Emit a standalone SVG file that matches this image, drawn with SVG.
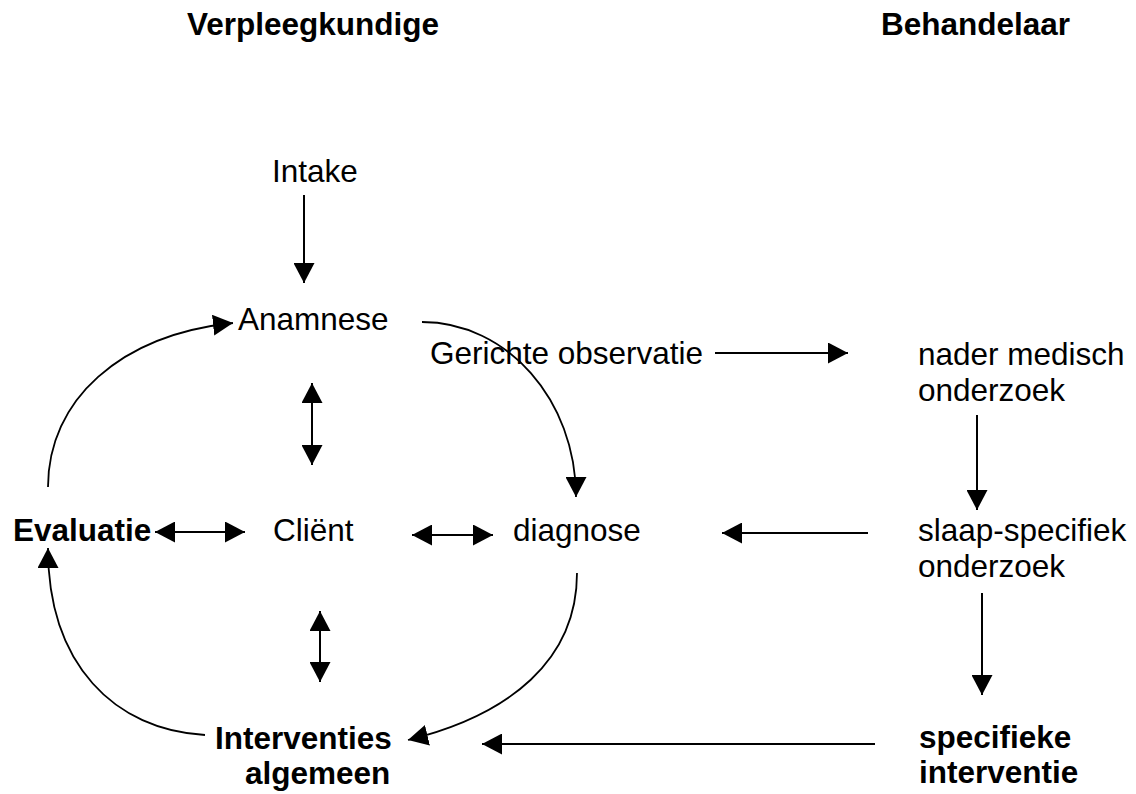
<svg xmlns="http://www.w3.org/2000/svg" width="1136" height="794" viewBox="0 0 1136 794">
<style>
text{font-family:"Liberation Sans",Arial,sans-serif;font-size:31.5px;fill:#000}
.b{font-weight:bold}
.ln{fill:none;stroke:#000;stroke-width:2}
.cv{fill:none;stroke:#000;stroke-width:1.8}
.a{marker-end:url(#ah)}
.d{marker-start:url(#ah);marker-end:url(#ah)}
</style>
<defs>
<marker id="ah" markerUnits="userSpaceOnUse" viewBox="0 0 20 21" markerWidth="20" markerHeight="21" refX="20" refY="10.5" orient="auto-start-reverse">
<path d="M0,0 L20,10.5 L0,21 z" fill="#000"/>
</marker>
</defs>
<rect width="1136" height="794" fill="#fff"/>
<g id="hdr-verpleegkundige"><text class="b" x="187" y="35">Verpleegkundige</text></g>
<g id="hdr-behandelaar"><text class="b" x="881" y="35">Behandelaar</text></g>
<g id="intake"><text x="272" y="182">Intake</text></g>
<g id="anamnese"><text x="238" y="330">Anamnese</text></g>
<g id="observatie"><text x="430" y="364">Gerichte observatie</text></g>
<g id="nader"><text x="918" y="365">nader medisch</text><text x="918" y="401">onderzoek</text></g>
<g id="evaluatie"><text class="b" x="13" y="541">Evaluatie</text></g>
<g id="client"><text x="273" y="541">Cliënt</text></g>
<g id="diagnose"><text x="513" y="541">diagnose</text></g>
<g id="slaap"><text x="918" y="541">slaap-specifiek</text><text x="918" y="577">onderzoek</text></g>
<g id="interventies"><text class="b" x="215" y="749">Interventies</text><text class="b" x="245" y="784">algemeen</text></g>
<g id="specifieke"><text class="b" x="919" y="748">specifieke</text><text class="b" x="919" y="783">interventie</text></g>
<g id="connectors">
<path class="ln a" d="M304,195 L304,283"/>
<path class="ln d" d="M312,383 L312,465"/>
<path class="ln d" d="M320,611 L320,682"/>
<path class="ln d" d="M155,532 L245,532"/>
<path class="ln d" d="M412,535 L493,535"/>
<path class="ln a" d="M715,353 L848,353"/>
<path class="ln a" d="M977,415 L977,510"/>
<path class="ln a" d="M868,533 L722,533"/>
<path class="ln a" d="M982,593 L982,695"/>
<path class="ln a" d="M875,744 L482,744"/>
<path class="cv a" d="M48,487 C48,400 120,335 233,323"/>
<path class="cv a" d="M422,322 C507,322 576,400 576,497"/>
<path class="cv a" d="M577,573 C577,660 510,715 408,740"/>
<path class="cv a" d="M205,735 C115,730 48,665 48,548"/>
</g>
</svg>
